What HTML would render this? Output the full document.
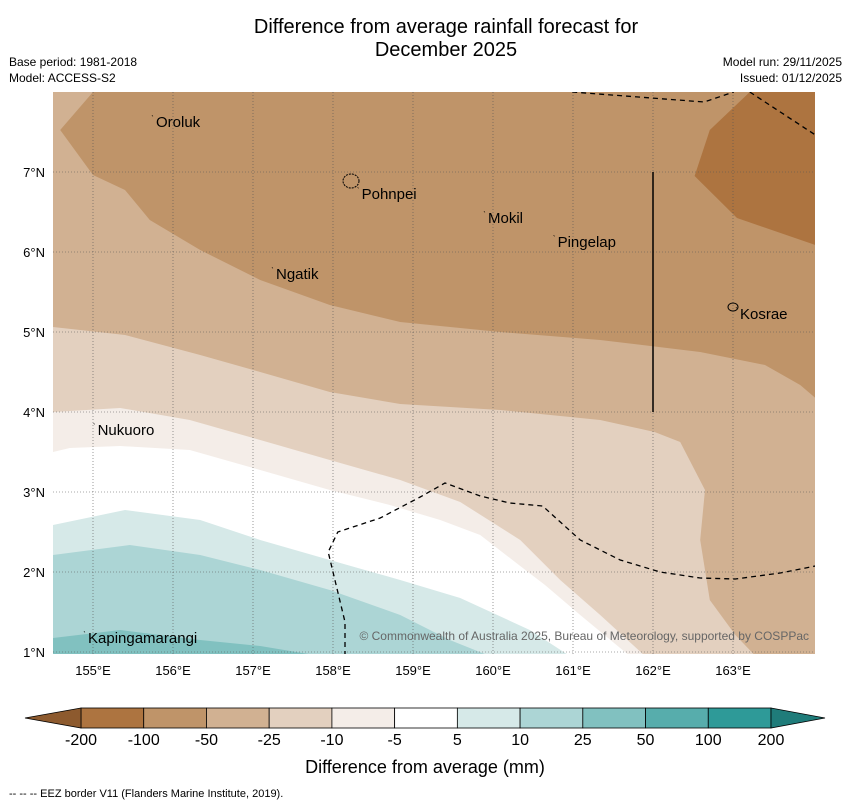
<!DOCTYPE html>
<html><head><meta charset="utf-8"><style>
body{margin:0;background:#fff;font-family:"Liberation Sans",sans-serif;}
svg{display:block}
</style></head><body>
<svg id="chart" width="850" height="804" xmlns="http://www.w3.org/2000/svg">
<text x="446" y="33" font-size="20" text-anchor="middle">Difference from average rainfall forecast for</text>
<text x="446" y="56" font-size="20" text-anchor="middle">December 2025</text>
<text x="9" y="66" font-size="12">Base period: 1981-2018</text>
<text x="9" y="82" font-size="12">Model: ACCESS-S2</text>
<text x="842" y="66" font-size="12" text-anchor="end">Model run: 29/11/2025</text>
<text x="842" y="82" font-size="12" text-anchor="end">Issued: 01/12/2025</text>
<defs><clipPath id="mapclip"><rect x="53" y="92" width="762" height="562"/></clipPath></defs>
<g id="map" clip-path="url(#mapclip)"></g>
<g id="axes"></g>
<g id="cbar"></g>
<text x="425" y="773" font-size="18" text-anchor="middle">Difference from average (mm)</text>
<text x="9" y="797" font-size="11">--  --  -- EEZ border V11 (Flanders Marine Institute, 2019).</text>
</svg>
<script>
const NS="http://www.w3.org/2000/svg";
const lonTicks=[155,156,157,158,159,160,161,162,163];
const latTicks=[1,2,3,4,5,6,7];
const cbLabels=["-200","-100","-50","-25","-10","-5","5","10","25","50","100","200"];
const cbColors=["#ad7440","#bf9469","#d1b192","#e3d0bf","#f4ede8","#ffffff","#d6e9e8","#acd5d5","#81c1c0","#57adac","#2e9a98"];
const lineM100=[[155,8],[154.59,7.525],[155,6.963],[155.4,6.775],[155.71,6.4],[156.34,6.025],[157.09,5.65],[157.96,5.338],[158.84,5.125],[160.09,5],[161.34,4.9],[162.59,4.75],[163.4,4.588],[163.84,4.338],[164.03,4.175]];
const lineM200=[[163.21,8],[162.71,7.525],[162.52,6.95],[163.05,6.425],[164.03,6.087]];
const lineM50=[[154.5,5.063],[155.4,4.963],[156.34,4.713],[157.09,4.5],[157.96,4.25],[158.84,4.1],[160.09,4.025],[161.34,3.9],[162.02,3.75],[162.34,3.625],[162.65,3.025],[162.59,2.4],[162.71,1.65],[163.03,1.213],[163.28,0.95]];
const lineM25=[[154.5,4],[155.34,4.05],[156.21,3.9],[157.09,3.65],[157.96,3.4],[158.84,3.15],[159.59,2.875],[160.34,2.4],[160.84,1.9],[161.34,1.463],[161.9,0.95]];
const lineM10=[[154.5,3.5],[154.71,3.55],[155.34,3.575],[156.21,3.525],[157.09,3.275],[157.96,3.025],[158.71,2.838],[159.34,2.65],[159.84,2.463],[160.34,2.075],[160.65,1.838],[161.09,1.463],[161.71,0.95]];
const lineP5=[[154.5,2.588],[155.4,2.775],[156.34,2.65],[157.09,2.4],[157.96,2.15],[158.84,1.9],[159.59,1.675],[160.46,1.275],[160.96,0.95]];
const lineP10=[[154.5,2.213],[155.46,2.338],[156.34,2.213],[157.09,2.025],[157.96,1.775],[158.84,1.463],[159.46,1.15],[159.96,0.95]];
const lineP25=[[154.5,1.175],[155.34,1.275],[156.34,1.15],[157.09,1.075],[157.84,0.95]];
const eezA=[[160.99,8],[162.64,7.875],[163.01,8]];
const eezB=[[163.21,8],[164.03,7.463]];
const eezC=[[158.15,0.95],[158.15,1.375],[158.03,1.875],[157.94,2.25],[158.06,2.5],[158.59,2.675],[159.09,2.938],[159.4,3.113],[159.84,2.95],[160.21,2.863],[160.62,2.825],[161.09,2.4],[161.59,2.15],[162.09,2],[162.59,1.925],[163.03,1.913],[163.59,1.988],[164.03,2.075]];
const islands=[["Oroluk",155.7,7.7],["Pohnpei",158.27,6.8],["Mokil",159.85,6.5],["Pingelap",160.72,6.2],["Ngatik",157.2,5.8],["Kosrae",163.0,5.3],["Nukuoro",154.97,3.85],["Kapingamarangi",154.85,1.25]];
const x=lon=>53+(lon-154.5)*80;
const y=lat=>92+(8-lat)*80;
const map=document.getElementById('map');
function pts(a){return a.map(p=>x(p[0]).toFixed(1)+","+y(p[1]).toFixed(1)).join(" ");}
function poly(arr,extra,fill,name){const p=document.createElementNS(NS,'polygon');
p.setAttribute('points',pts(arr)+" "+extra);p.setAttribute('fill',fill);


map.appendChild(p);}
const bg=document.createElementNS(NS,'rect');bg.setAttribute('x',53);bg.setAttribute('y',92);bg.setAttribute('width',762);bg.setAttribute('height',562);bg.setAttribute('fill','#fff');map.appendChild(bg);
poly(lineM10,"815,660 820,92 40,92",cbColors[4],'band-minus10');
poly(lineM25,"815,660 820,92 40,92",cbColors[3],'band-minus25');
poly(lineM50,"830,660 830,92 40,92",cbColors[2],'band-minus50');
poly(lineM100,"830,80",cbColors[1],'band-minus100');
poly(lineM200,"830,80",cbColors[0],'band-minus200');
poly(lineP5,"40,660",cbColors[6],'band-plus5');
poly(lineP10,"40,660",cbColors[7],'band-plus10');
poly(lineP25,"40,660",cbColors[8],'band-plus25');
lonTicks.forEach(l=>{const g=document.createElementNS(NS,'line');g.setAttribute('x1',x(l));g.setAttribute('x2',x(l));g.setAttribute('y1',92);g.setAttribute('y2',654);g.setAttribute('stroke','#555');g.setAttribute('stroke-width','0.6');g.setAttribute('stroke-dasharray','1,2');


map.appendChild(g);});
latTicks.forEach(l=>{const g=document.createElementNS(NS,'line');g.setAttribute('y1',y(l));g.setAttribute('y2',y(l));g.setAttribute('x1',53);g.setAttribute('x2',815);g.setAttribute('stroke','#555');g.setAttribute('stroke-width','0.6');g.setAttribute('stroke-dasharray','1,2');


map.appendChild(g);});
[eezA,eezB,eezC].forEach(e=>{const p=document.createElementNS(NS,'polyline');p.setAttribute('points',pts(e));p.setAttribute('fill','none');p.setAttribute('stroke','#000');p.setAttribute('stroke-width','1.3');p.setAttribute('stroke-dasharray','5,4');


map.appendChild(p);});
const vl=document.createElementNS(NS,'line');vl.setAttribute('x1',x(162));vl.setAttribute('x2',x(162));vl.setAttribute('y1',y(7));vl.setAttribute('y2',y(4));vl.setAttribute('stroke','#000');vl.setAttribute('stroke-width','1.5');


map.appendChild(vl);
const ph=document.createElementNS(NS,'ellipse');ph.setAttribute('cx',351);ph.setAttribute('cy',181);ph.setAttribute('rx',8);ph.setAttribute('ry',7);ph.setAttribute('fill','none');ph.setAttribute('stroke','#000');ph.setAttribute('stroke-dasharray','2,1');


map.appendChild(ph);
const ks=document.createElementNS(NS,'ellipse');ks.setAttribute('cx',733);ks.setAttribute('cy',307);ks.setAttribute('rx',5);ks.setAttribute('ry',4);ks.setAttribute('fill','none');ks.setAttribute('stroke','#000');


map.appendChild(ks);
islands.forEach(i=>{const t=document.createElementNS(NS,'text');t.setAttribute('x',x(i[1])+7);t.setAttribute('y',y(i[2])+11);t.setAttribute('font-size','15');t.textContent=i[0];


map.appendChild(t);
const d=document.createElementNS(NS,'text');d.setAttribute('x',x(i[1])+2);d.setAttribute('y',y(i[2])+6);d.setAttribute('font-size','9');d.textContent='\u02CB';map.appendChild(d);});
const cp=document.createElementNS(NS,'text');cp.setAttribute('x',809);cp.setAttribute('y',640);cp.setAttribute('text-anchor','end');cp.setAttribute('font-size','12');cp.setAttribute('fill','#666');cp.textContent='© Commonwealth of Australia 2025, Bureau of Meteorology, supported by COSPPac';


map.appendChild(cp);
const axes=document.getElementById('axes');
lonTicks.forEach(l=>{const t=document.createElementNS(NS,'text');t.setAttribute('x',x(l));t.setAttribute('y',675);t.setAttribute('text-anchor','middle');t.setAttribute('font-size','13');t.textContent=l+'°E';


axes.appendChild(t);});
latTicks.forEach(l=>{const t=document.createElementNS(NS,'text');t.setAttribute('x',45);t.setAttribute('y',y(l)+5);t.setAttribute('text-anchor','end');t.setAttribute('font-size','13');t.textContent=l+'°N';


axes.appendChild(t);});
const cb=document.getElementById('cbar');const cx0=81,cw=(771-81)/cbColors.length,cy=708,ch=20;
cbColors.forEach((c,i)=>{const r=document.createElementNS(NS,'rect');r.setAttribute('x',cx0+i*cw);r.setAttribute('y',cy);r.setAttribute('width',cw);r.setAttribute('height',ch);r.setAttribute('fill',c);r.setAttribute('stroke','#000');r.setAttribute('stroke-width','0.8');


cb.appendChild(r);});
[[`${cx0},${cy} 25,${cy+ch/2} ${cx0},${cy+ch}`,'#8d5a2e'],[`771,${cy} 825,${cy+ch/2} 771,${cy+ch}`,'#1f7c7a']].forEach(a=>{const p=document.createElementNS(NS,'polygon');p.setAttribute('points',a[0]);p.setAttribute('fill',a[1]);p.setAttribute('stroke','#000');p.setAttribute('stroke-width','0.8');


cb.appendChild(p);});
cbLabels.forEach((l,i)=>{const t=document.createElementNS(NS,'text');t.setAttribute('x',cx0+i*cw);t.setAttribute('y',745);t.setAttribute('text-anchor','middle');t.setAttribute('font-size','16');t.textContent=l;


cb.appendChild(t);});
</script>
</body></html>
